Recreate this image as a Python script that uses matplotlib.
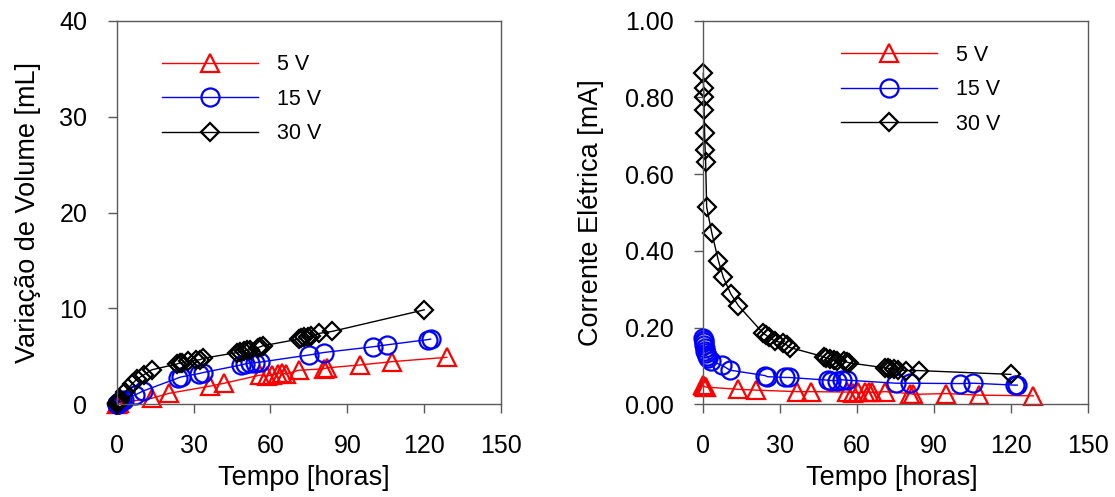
"""Volume change and electric current versus time for three voltages."""

import matplotlib
matplotlib.use('Agg')
from matplotlib import pyplot as plt

plt.rcParams['font.family'] = ['Liberation Sans', 'DejaVu Sans']

# 5 V
t_5v = [0, 0.2, 0.5, 1, 13.7, 20.5, 36.5, 42, 56, 58.5, 60.5, 63, 64.5, 66,
        71, 80.7, 82, 94.8, 107.5, 128.8]
vol_5v = [0, 0.05, 0.1, 0.15, 0.63, 1.15, 1.9, 2.2, 3.05, 2.95, 3.05, 3.2,
          3.3, 3.15, 3.55, 3.7, 3.8, 4.1, 4.45, 4.9]
cur_5v = [0.050, 0.048, 0.046, 0.045, 0.039, 0.037, 0.033, 0.033, 0.032,
          0.030, 0.031, 0.032, 0.033, 0.031, 0.033, 0.028, 0.026, 0.028,
          0.024, 0.022]

# 15 V
t_15v = [0, 0.1, 0.2, 0.3, 0.5, 0.7, 0.9, 1.3, 2, 3, 7.2, 10.4, 24, 25, 32,
         33.5, 48.5, 50, 52, 54, 56, 75.2, 80.7, 100, 105.4, 121.5, 122.5]
vol_15v = [0, 0.02, 0.05, 0.08, 0.1, 0.15, 0.2, 0.25, 0.35, 0.5, 0.98, 1.4,
           2.75, 2.85, 3.2, 3.3, 4.1, 4.2, 4.3, 4.35, 4.4, 5.15, 5.4, 6.0,
           6.2, 6.75, 6.8]
cur_15v = [0.172, 0.168, 0.162, 0.155, 0.148, 0.140, 0.133, 0.127, 0.120,
           0.113, 0.102, 0.089, 0.075, 0.072, 0.070, 0.070, 0.063, 0.062,
           0.062, 0.064, 0.063, 0.055, 0.055, 0.054, 0.055, 0.050, 0.050]

# 30 V
t_30v = [0, 0.1, 0.2, 0.3, 0.5, 0.7, 0.9, 1.3, 3.3, 5.9, 7.8, 10.7, 13.7,
         23.4, 24.5, 25.5, 28, 31, 32.5, 33.8, 47, 48, 49.5, 51, 52, 55, 56,
         57, 71, 72, 73, 74.5, 76, 79, 84, 120]
vol_30v = [0, 0.05, 0.1, 0.15, 0.2, 0.3, 0.4, 0.6, 1.3, 2.1, 2.6, 3.1, 3.6,
           4.2, 4.3, 4.3, 4.5, 4.6, 4.65, 4.8, 5.4, 5.5, 5.6, 5.65, 5.7,
           5.9, 6.0, 6.1, 6.8, 6.9, 7.0, 7.0, 7.1, 7.4, 7.6, 9.85]
cur_30v = [0.863, 0.824, 0.802, 0.767, 0.706, 0.663, 0.632, 0.514, 0.447,
           0.374, 0.331, 0.288, 0.257, 0.185, 0.180, 0.175, 0.165, 0.160,
           0.155, 0.148, 0.124, 0.120, 0.118, 0.115, 0.113, 0.112, 0.110,
           0.108, 0.095, 0.094, 0.093, 0.092, 0.090, 0.088, 0.088, 0.078]

labels = ['5 V', '15 V', '30 V']
x_ticks = [0, 30, 60, 90, 120, 150]
vol_ticks = [0, 10, 20, 30, 40]
cur_ticks = [0.0, 0.2, 0.4, 0.6, 0.8, 1.0]


def draw_series(ax, t, y, color, marker, ms, label):
    """Draw one voltage series with hollow markers."""
    ax.plot(t, y, color=color, lw=1.0, marker=marker, ms=ms, mew=1.6,
            mfc='none', mec=color, label=label, clip_on=False)


def style_axes(ax, yticks, ylim, yfmt):
    """SigmaPlot-like frame, ticks outward on left and bottom."""
    ax.set_xlim(0, 150)
    ax.set_ylim(*ylim)
    ax.set_xticks(x_ticks)
    ax.set_yticks(yticks)
    ax.set_yticklabels([yfmt % v for v in yticks])
    for s in ax.spines.values():
        s.set_color('0.35')
        s.set_linewidth(1.0)
    ax.tick_params(direction='out', length=6.6, width=1.0, color='0.35',
                   labelsize=18, top=False, right=False)
    ax.tick_params(axis='x', pad=15)
    ax.tick_params(axis='y', pad=14.5)


fig = plt.figure(figsize=(11.15, 4.97), dpi=100)
ax1 = fig.add_axes([0.1047, 0.1865, 0.3447, 0.7718])
ax2 = fig.add_axes([0.6308, 0.1865, 0.3447, 0.7718])

draw_series(ax1, t_5v, vol_5v, 'red', '^', 13.5, labels[0])
draw_series(ax1, t_15v, vol_15v, 'blue', 'o', 13, labels[1])
draw_series(ax1, t_30v, vol_30v, 'black', 'D', 9.6, labels[2])

draw_series(ax2, t_5v, cur_5v, 'red', '^', 13.5, labels[0])
draw_series(ax2, t_15v, cur_15v, 'blue', 'o', 13, labels[1])
draw_series(ax2, t_30v, cur_30v, 'black', 'D', 9.6, labels[2])

style_axes(ax1, vol_ticks, (0, 40), '%d')
style_axes(ax2, cur_ticks, (0, 1.0), '%.2f')

ax1.set_xlabel('Tempo [horas]', fontsize=19.5)
ax1.set_ylabel('Variação de Volume [mL]', fontsize=19.5)
ax2.set_xlabel('Tempo [horas]', fontsize=19.5)
ax2.set_ylabel('Corrente Elétrica [mA]', fontsize=19.5)
ax1.xaxis.set_label_coords(0.487, -0.158)
ax2.xaxis.set_label_coords(0.49, -0.158)
ax1.yaxis.set_label_coords(-0.196, 0.5)
ax2.yaxis.set_label_coords(-0.258, 0.5)

leg_kw = dict(frameon=False, fontsize=15.5, handlelength=4.45,
              handletextpad=0.9, labelspacing=0.62, borderpad=0,
              borderaxespad=0, loc='upper left')
ax1.legend(bbox_to_anchor=(0.117, 0.912), **leg_kw)
ax2.legend(bbox_to_anchor=(0.358, 0.937), **leg_kw)

plt.savefig('out.png', dpi=100)
